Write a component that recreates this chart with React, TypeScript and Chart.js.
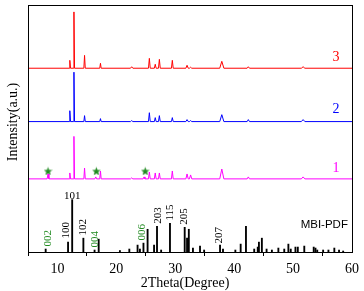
import React, { useEffect, useRef } from 'react';
import { Chart, registerables } from 'chart.js';
Chart.register(...registerables);

// Sample traces: shared peak positions (2θ) and half widths, per-series peak heights
const peakPos = [8.4, 12.1, 12.8, 14.6, 16.5, 17.3, 22.6, 24.7, 25.6, 26.6, 27.3, 29.5, 32.0, 32.6, 37.9, 42.4, 51.7];
const peakHalfWidth = [0.15, 0.12, 0.1, 0.12, 0.15, 0.12, 0.2, 0.15, 0.15, 0.15, 0.15, 0.15, 0.2, 0.2, 0.35, 0.2, 0.3];
const heights3 = [0, 8, 57, 13, 0, 5, 1.5, 0, 10, 4, 9, 8, 3, 1, 7, 1.5, 1.5];
const heights2 = [0, 11, 50, 6, 0, 3, 1, 0, 9, 4, 6, 4, 2, 1, 7, 2, 2];
const heights1 = [5, 6, 43, 11, 2, 8, 1, 2, 7, 6, 6, 8, 5, 4, 10, 2, 2];
const baseline3 = 186;
const baseline2 = 132;
const baseline1 = 74;

// Reference pattern (MBI-PDF)
const refPos = [8.0, 11.8, 12.5, 14.4, 16.3, 17.0, 20.6, 22.2, 23.6, 24.0, 24.6, 25.3, 26.4, 26.9, 27.6, 29.1, 31.6, 32.0, 32.3, 33.0, 34.2, 34.9, 37.6, 38.1, 40.2, 41.1, 42.0, 43.4, 44.0, 44.2, 44.7, 45.5, 46.4, 47.5, 48.5, 49.2, 49.6, 50.4, 50.8, 51.9, 53.5, 53.8, 54.1, 55.1, 56.0, 57.0, 57.8, 58.5];
const refInt = [3, 10, 53, 14, 2, 13, 1.5, 3, 7, 3, 9, 23, 7, 26, 2, 29, 25, 14, 23, 4, 6, 2, 7, 3, 2, 8, 26, 3, 5, 10, 14, 3, 2, 4, 3, 8, 3, 5, 5, 6, 5, 4, 2, 2, 2, 4, 2, 1];

// Impurity stars
const starPos = [8.4, 16.6, 24.9];
const starLevel = 82;

const xTicks = [10, 20, 30, 40, 50, 60];

// Reflection labels
const hklText = ['101', '002', '100', '102', '004', '006', '203', '115', '205', '207'];
const hklX = [12.5, 8.4, 11.5, 14.3, 16.4, 24.4, 27.1, 29.1, 31.5, 37.5];
const hklY = [57, 14, 22, 25, 13, 20, 37, 40, 36, 17];
const hklGreen = [false, true, false, false, true, true, false, false, false, false];

const seriesLabels = ['3', '2', '1'];
const seriesLabelY = [197, 144, 85];

const SERIF = "'Times New Roman', 'Liberation Serif', serif";
const GREEN = '#228B22';

function trace(base: number, heights: number[]) {
  const pts: { x: number; y: number }[] = [{ x: 5, y: base }];
  peakPos.forEach((p, i) => {
    const h = heights[i];
    if (!h) return;
    const w = peakHalfWidth[i];
    pts.push({ x: p - w, y: base }, { x: p, y: base + h }, { x: p + w, y: base });
  });
  pts.push({ x: 60, y: base });
  return pts;
}

function makeStar(size: number, color: string) {
  const c = document.createElement('canvas');
  c.width = size;
  c.height = size;
  const g = c.getContext('2d')!;
  g.fillStyle = color;
  g.beginPath();
  for (let i = 0; i < 10; i++) {
    const r = i % 2 === 0 ? size / 2 : size / 4.6;
    const a = -Math.PI / 2 + (i * Math.PI) / 5;
    g.lineTo(size / 2 + r * Math.cos(a), size / 2 + r * Math.sin(a) + 0.5);
  }
  g.closePath();
  g.fill();
  return c;
}

export default function App() {
  const ref = useRef<HTMLCanvasElement>(null);
  useEffect(() => {
    document.body.style.margin = '0';
    const star = makeStar(9, GREEN);
    const textPlugin = {
      id: 'texts',
      afterDraw(chart: any) {
        const { ctx, chartArea, scales } = chart;
        const xs = scales.x;
        const ys = scales.y;
        ctx.save();
        // frame
        ctx.strokeStyle = '#000';
        ctx.lineWidth = 1;
        const l = Math.round(chartArea.left), t = Math.round(chartArea.top);
        const r = Math.round(chartArea.right), b = Math.round(chartArea.bottom);
        ctx.strokeRect(l + 0.5, t + 0.5, r - l, b - t);
        // hkl labels
        ctx.textAlign = 'center';
        ctx.textBaseline = 'middle';
        ctx.font = `11px ${SERIF}`;
        hklText.forEach((txt, i) => {
          const px = xs.getPixelForValue(hklX[i]);
          const py = ys.getPixelForValue(hklY[i]);
          ctx.fillStyle = hklGreen[i] ? GREEN : '#000';
          ctx.save();
          ctx.translate(px, py);
          if (i > 0) ctx.rotate(-Math.PI / 2);
          ctx.fillText(txt, 0, 0);
          ctx.restore();
        });
        // series labels
        ctx.font = `14px ${SERIF}`;
        const cols = ['#ff0000', '#0000ff', '#ff00ff'];
        seriesLabels.forEach((s, i) => {
          ctx.fillStyle = cols[i];
          ctx.fillText(s, xs.getPixelForValue(57.3), ys.getPixelForValue(seriesLabelY[i]));
        });
        // MBI-PDF
        ctx.fillStyle = '#000';
        ctx.font = `11.5px 'Liberation Sans', Arial, sans-serif`;
        ctx.fillText('MBI-PDF', xs.getPixelForValue(55.3), ys.getPixelForValue(27));
        // axis titles
        ctx.font = `14px ${SERIF}`;
        ctx.fillText('2Theta(Degree)', 185, 283);
        ctx.save();
        ctx.translate(13, 122);
        ctx.rotate(-Math.PI / 2);
        ctx.fillText('Intensity(a.u.)', 0, 0);
        ctx.restore();
        ctx.restore();
      },
    };
    const chart = new Chart(ref.current!, {
      type: 'line',
      data: {
        datasets: [
          {
            type: 'bar',
            data: refPos.map((x, i) => ({ x, y: refInt[i] })),
            backgroundColor: '#000',
            borderWidth: 0,
            barThickness: 1.2,
          } as any,
          {
            data: trace(baseline3, heights3),
            borderColor: '#ff0000',
            borderWidth: 1,
            pointRadius: 0,
            tension: 0,
          },
          {
            data: trace(baseline2, heights2),
            borderColor: '#0000ff',
            borderWidth: 1,
            pointRadius: 0,
            tension: 0,
          },
          {
            data: trace(baseline1, heights1),
            borderColor: '#ff00ff',
            borderWidth: 1,
            pointRadius: 0,
            tension: 0,
          },
          {
            type: 'scatter',
            data: starPos.map((x) => ({ x, y: starLevel })),
            pointStyle: star,
            showLine: false,
          } as any,
        ],
      },
      options: {
        responsive: false,
        animation: false,
        layout: { padding: { left: 28, right: 10, top: 2, bottom: 0 } },
        plugins: { legend: { display: false }, tooltip: { enabled: false } },
        scales: {
          x: {
            type: 'linear',
            min: 5,
            max: 60,
            offset: false,
            afterBuildTicks: (s: any) => {
              s.ticks = xTicks.map((v) => ({ value: v }));
            },
            afterFit: (s: any) => {
              s.height = 39;
            },
            grid: { display: true, drawOnChartArea: false, drawTicks: true, tickLength: 4, color: '#000' },
            border: { display: false },
            ticks: { color: '#000', font: { family: SERIF, size: 14 }, padding: 5, maxRotation: 0 },
          },
          y: {
            type: 'linear',
            display: false,
            min: 0,
            max: 250,
          },
        },
      },
      plugins: [textPlugin],
    });
    return () => chart.destroy();
  }, []);
  return (
    <div style={{ width: 364, height: 291 }}>
      <canvas ref={ref} width={364} height={291} />
    </div>
  );
}
